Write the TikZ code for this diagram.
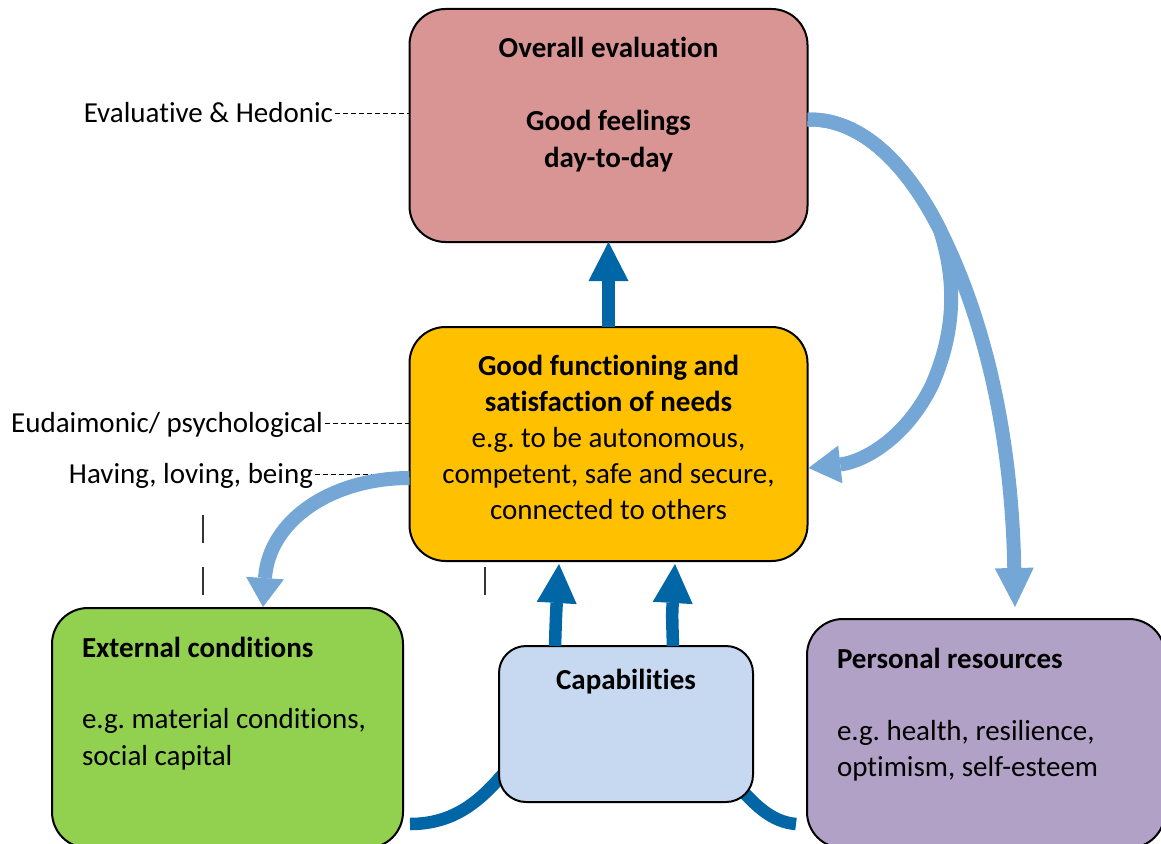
\documentclass[tikz,border=0pt]{standalone}
\usepackage{fontspec}
\setmainfont{Carlito}[Ligatures=NoCommon]
\frenchspacing
\usetikzlibrary{arrows.meta,calc}
\definecolor{pinkbox}{HTML}{D99594}
\definecolor{goldbox}{HTML}{FFC000}
\definecolor{greenbox}{HTML}{92D050}
\definecolor{capbox}{HTML}{C6D9F1}
\definecolor{purplebox}{HTML}{B2A1C7}
\definecolor{lightarr}{HTML}{74A7D5}
\definecolor{darkarr}{HTML}{0066A6}
\begin{document}
\begin{tikzpicture}[x=1pt,y=-1pt,
  box/.style={draw=black, line width=2pt, rounded corners=36pt, inner sep=0pt, outer sep=0pt},
  txt/.style={inner sep=0pt, outer sep=0pt, anchor=base, font=\fontsize{29pt}{36pt}\selectfont},
  btxt/.style={txt, font=\fontsize{29pt}{36pt}\selectfont\bfseries},
  darr/.style={draw=darkarr, line width=12.5pt, -{Triangle[width=40pt,length=39pt,line width=0pt]}},
  dline/.style={draw=darkarr, line width=12.5pt},
  larr/.style={draw=lightarr, line width=14pt},
  dashln/.style={draw=black, line width=1.1pt, dash pattern=on 5pt off 3pt},
  tick/.style={draw=black!80, line width=2pt}
]
\useasboundingbox (0,0) rectangle (1161,843);

% dark blue arcs under the capabilities box
\coordinate (arcL) at (410,824);
\coordinate (arcR) at (796,824);
\draw[dline] (arcL) .. controls (455,824) and (482,800) .. (508,768);
\draw[dline] (738,786) .. controls (756,806) and (772,822) .. (arcR);

% boxes
\node[box, fill=pinkbox, minimum width=398pt, minimum height=233pt] (eval) at (608.5,125.5) {};
\node[box, fill=goldbox, minimum width=398pt, minimum height=234pt] (mid) at (608.5,444) {};
\node[box, fill=greenbox, minimum width=351pt, minimum height=240pt] (ext) at (227.5,728) {};
\node[box, fill=capbox, rounded corners=27pt, minimum width=254pt, minimum height=156pt] (cap) at (626,724) {};
\node[box, fill=purplebox, minimum width=358pt, minimum height=229pt] (pers) at (986,733.5) {};

% texts in boxes
\node[btxt] (t1) at (608.5,58) {Overall evaluation};
\node[btxt] (t2) at (608.5,130) {Good feelings};
\node[btxt] (t3) at (608.5,167) {day-to-day};
\node[btxt] (m1) at (608.5,375) {Good functioning and};
\node[btxt] (m2) at (608.5,411) {satisfaction of needs};
\node[txt] (m3) at (608.5,447) {e.g. to be autonomous,};
\node[txt] (m4) at (608.5,483) {competent, safe and secure,};
\node[txt] (m5) at (608.5,519) {connected to others};
\node[btxt, anchor=base west] (e1) at (82,657) {External conditions};
\node[txt, anchor=base west] (e2) at (82,728) {e.g. material conditions,};
\node[txt, anchor=base west] (e3) at (82,765) {social capital};
\node[btxt] (c1) at (626,689) {Capabilities};
\node[btxt, anchor=base west] (p1) at (837,668) {Personal resources};
\node[txt, anchor=base west] (p2) at (837,740) {e.g. health, resilience,};
\node[txt, anchor=base west] (p3) at (837,776) {optimism, self-esteem};

% side labels
\node[txt, anchor=base east] (lab1) at (333,122) {Evaluative \& Hedonic};
\node[txt, anchor=base east] (lab2) at (323,432) {Eudaimonic/ psychological};
\node[txt, anchor=base east] (lab3) at (313,483) {Having, loving, being};
\coordinate (d1) at ($(lab1.base east)+(2,-8.5)$);
\coordinate (d2) at ($(lab2.base east)+(2,-8.5)$);
\coordinate (d3) at ($(lab3.base east)+(2,-8.5)$);
\coordinate (lab3end) at (372,474.5);
\draw[dashln] (d1) -- (d1 -| eval.west);
\draw[dashln] (d2) -- (d2 -| mid.west);
\draw[dashln] (d3) -- (lab3end);

% vertical tick marks
\coordinate (tkA) at (203,515);
\coordinate (tkB) at (203,543);
\coordinate (tkC) at (203,567);
\coordinate (tkD) at (203,595);
\coordinate (tkE) at (485,567);
\coordinate (tkF) at (485,595);
\draw[tick] (tkA) -- (tkB);
\draw[tick] (tkC) -- (tkD);
\draw[tick] (tkE) -- (tkF);

% dark blue up arrows
\draw[darr] (mid.north) -- (eval.south);
\draw[darr] ($(cap.north)+(-71,0)$) .. controls (556,615) .. ($(mid.south)+(-49.5,3)$);
\draw[darr] ($(cap.north)+(47,0)$) .. controls (672,615) .. ($(mid.south)+(66.5,3)$);

% light blue arrows
\coordinate (split) at (940,230);
\coordinate (perstip) at (1015,607);
\draw[larr, -{Triangle[width=39pt,length=39pt,line width=0pt]}]
  ($(eval.east)+(0,-6)$) .. controls (870,118) and (915,180) .. (split)
  .. controls (990,330) and (1012,450) .. (perstip);
\draw[larr, -{Triangle[width=38pt,length=32pt,line width=0pt]}]
  ($(eval.east)+(0,-6)$) .. controls (870,118) and (915,180) .. (split)
  .. controls (956,280) and (956,330) .. (932,385)
  .. controls (905,440) and (862,462) .. ($(mid.east)+(1,24)$);
\draw[larr, -{Triangle[width=38pt,length=29pt,line width=0pt]}]
  ($(mid.west)+(0,34)$) .. controls (332,478) and (269,520) .. ($(ext.north)+(35.5,-1)$);
\end{tikzpicture}
\end{document}
